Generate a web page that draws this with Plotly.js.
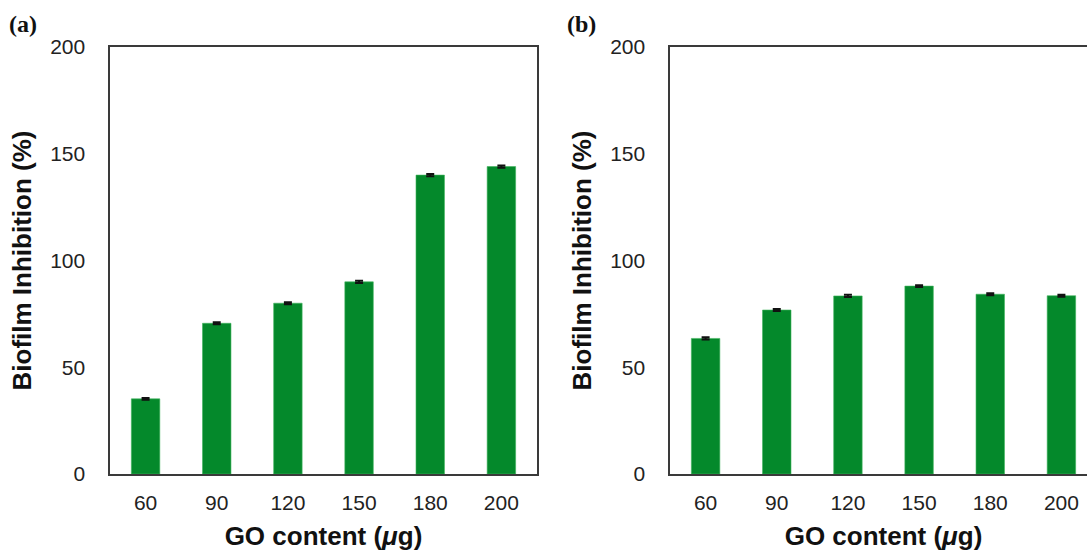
<!DOCTYPE html>
<html>
<head>
<meta charset="utf-8">
<script src="https://cdn.plot.ly/plotly-3.0.1.min.js"></script>
<style>
html,body{margin:0;padding:0;overflow:hidden;background:#fff;width:1087px;height:551px;}
#chart{width:1110px;height:551px;}
</style>
</head>
<body>
<div id="chart"></div>
<script>
const categories = ["60", "90", "120", "150", "180", "200"];
const valuesA = [35.2, 70.6, 80.0, 90.0, 140.0, 144.0];
const errorsA = [0.4, 0.5, 0.5, 0.5, 0.5, 0.5];
const valuesB = [63.5, 76.8, 83.4, 88.0, 84.2, 83.5];
const errorsB = [0.5, 0.5, 0.5, 0.4, 0.5, 0.5];
const yTicks = [0, 50, 100, 150, 200];

const barColor = '#04892b';
const axisColor = '#3a3a3a';

function bar(vals, errs, xa, ya) {
  return {
    type: 'bar', x: categories, y: vals, xaxis: xa, yaxis: ya,
    marker: {color: barColor, line: {color: '#3fb45c', width: 0.6}},
    error_y: {type: 'data', array: errs, visible: true, color: '#111', thickness: 2, width: 4},
    showlegend: false, hoverinfo: 'x+y'
  };
}

const tickFont = {family: 'Liberation Sans, Arial, sans-serif', size: 21, color: '#222'};
const titleFont = {family: 'Liberation Sans, Arial, sans-serif', size: 26, color: '#111', weight: 'bold'};

function xAxis(domain, anchor) {
  return {
    domain: domain, anchor: anchor, type: 'category',
    showline: true, linecolor: axisColor, linewidth: 1.6, mirror: true,
    showgrid: false, zeroline: false, ticks: '', ticklabelstandoff: 9,
    tickfont: tickFont,
    title: {text: 'GO content (<i>μ</i>g)', font: titleFont, standoff: 19}
  };
}
function yAxis(anchor) {
  return {
    anchor: anchor, range: [0, 200], tickvals: yTicks,
    showline: true, linecolor: axisColor, linewidth: 1.6, mirror: true,
    showgrid: false, zeroline: false, ticks: '', ticklabelstandoff: 19,
    tickfont: tickFont,
    title: {text: 'Biofilm Inhibition (%)', font: titleFont, standoff: 11}
  };
}

const data = [bar(valuesA, errorsA, 'x', 'y'), bar(valuesB, errorsB, 'x2', 'y2')];

const layout = {
  width: 1110, height: 551,
  margin: {l: 110, r: 13, t: 47, b: 77},
  paper_bgcolor: '#fff', plot_bgcolor: '#fff',
  bargap: 0.6,
  xaxis: xAxis([0, 0.4326], 'y'),
  yaxis: yAxis('x'),
  xaxis2: xAxis([0.5674, 1], 'y2'),
  yaxis2: yAxis('x2'),
  annotations: [
    {text: '<b>(a)</b>', xref: 'paper', yref: 'paper', x: -0.104, y: 1.0, xanchor: 'left', yanchor: 'bottom', yshift: 8,
     showarrow: false, font: {family: 'Liberation Serif, Times New Roman, serif', size: 24, color: '#111'}},
    {text: '<b>(b)</b>', xref: 'paper', yref: 'paper', x: 0.4605, y: 1.0, xanchor: 'left', yanchor: 'bottom', yshift: 8,
     showarrow: false, font: {family: 'Liberation Serif, Times New Roman, serif', size: 24, color: '#111'}}
  ]
};

Plotly.newPlot('chart', data, layout, {displayModeBar: false, staticPlot: true});
</script>
</body>
</html>
